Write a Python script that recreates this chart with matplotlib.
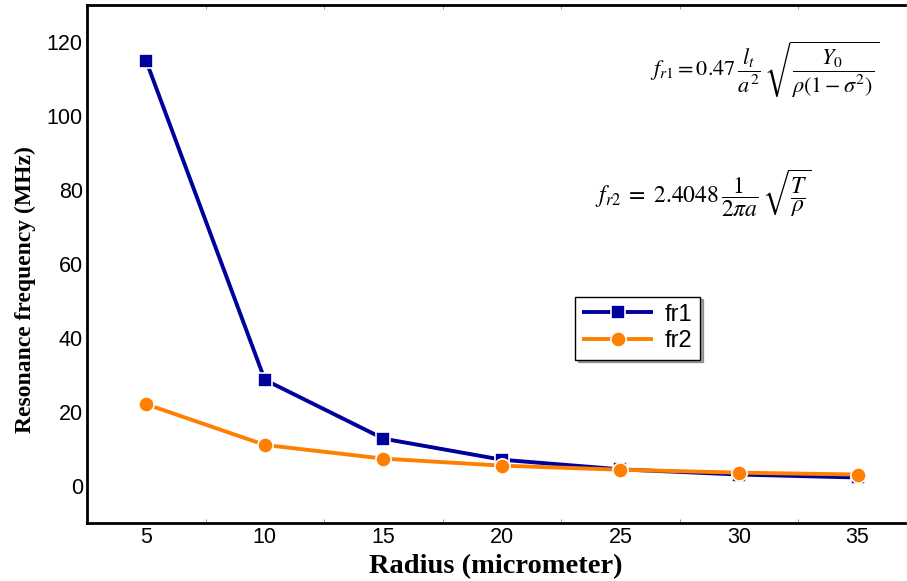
import matplotlib
matplotlib.use("Agg")
import matplotlib.pyplot as plt
from matplotlib.ticker import MultipleLocator

radius = [5, 10, 15, 20, 25, 30, 35]
fr1 = [114.8, 28.7, 12.8, 7.1, 4.5, 3.1, 2.3]
fr2 = [22.1, 11.1, 7.4, 5.5, 4.4, 3.6, 3.1]
xticks = [5, 10, 15, 20, 25, 30, 35]
yticks = [0, 20, 40, 60, 80, 100, 120]

plt.rcParams['mathtext.fontset'] = 'stix'

fig = plt.figure(figsize=(9.07, 5.81), dpi=100)
ax = fig.add_axes([87/907, 58/581, 818/907, 518/581])

ax.plot(radius, fr1, color='#00009C', lw=2.8, marker='s', ms=9.5,
        mec='white', mew=1.2, label='fr1', solid_capstyle='butt')
ax.plot(radius, fr2, color='#FF8000', lw=2.8, marker='o', ms=11,
        mec='white', mew=1.2, label='fr2', solid_capstyle='butt')

ax.set_xlim(2.5, 37)
ax.set_ylim(-10, 130)
ax.set_xticks(xticks)
ax.set_yticks(yticks)
ax.xaxis.set_minor_locator(MultipleLocator(2.5))
ax.tick_params(axis='both', which='major', length=0, labelsize=15.5, pad=3)
ax.tick_params(axis='x', which='minor', direction='in', length=3, width=0.6,
               color='#888888', top=True, bottom=True)
for lab in ax.get_xticklabels() + ax.get_yticklabels():
    lab.set_fontfamily('Liberation Sans')

ax.spines['right'].set_visible(False)
for s in ['left', 'bottom', 'top']:
    ax.spines[s].set_linewidth(2.0)
    ax.spines[s].set_color('black')

ax.set_xlabel('Radius (micrometer)', fontfamily='Liberation Serif',
              fontweight='bold', fontsize=20.5, labelpad=4)
ax.set_ylabel('Resonance frequency (MHz)', fontfamily='Liberation Serif',
              fontweight='bold', fontsize=17, labelpad=6)
ax.yaxis.set_label_coords(-0.062, 0.45)

ax.text(0.688, 0.875,
        r'$f_{r1}=0.47\,\dfrac{l_t}{a^2}\,\sqrt{\dfrac{Y_0}{\rho(1-\sigma^2)}}$',
        transform=ax.transAxes, fontsize=16, ha='left', va='center')
ax.text(0.621, 0.635,
        r'$f_{r2}\;=\;2.4048\,\dfrac{\;1\;}{2\pi a}\,\sqrt{\dfrac{T}{\rho}}$',
        transform=ax.transAxes, fontsize=17, ha='left', va='center')

leg = ax.legend(loc='upper left', bbox_to_anchor=(0.597, 0.437),
                borderaxespad=0, fancybox=False, shadow=True,
                prop={'family': 'Liberation Sans', 'size': 17},
                handlelength=3.0, handletextpad=0.5, borderpad=0.3,
                labelspacing=0.2)
leg.get_frame().set_edgecolor('black')
leg.get_frame().set_linewidth(1.0)

fig.savefig('out.png', dpi=100)
